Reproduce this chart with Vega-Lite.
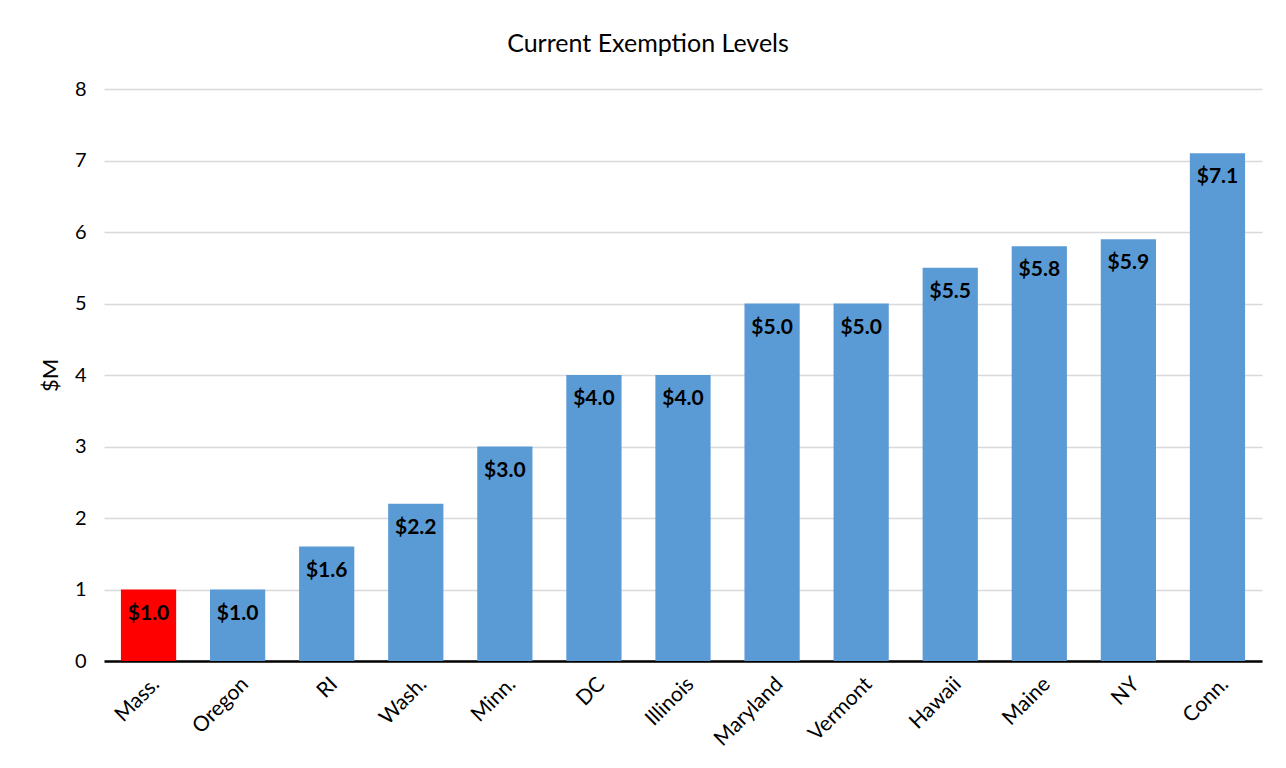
{
  "$schema": "https://vega.github.io/schema/vega-lite/v6.json",
  "width": 1158,
  "height": 572,
  "autosize": {"type": "none"},
  "padding": {"left": 104, "top": 89, "right": 24, "bottom": 107},
  "background": "white",
  "title": {"text": "Current Exemption Levels", "font": "Lato", "fontSize": 25, "fontWeight": "normal", "color": "#000000", "anchor": "middle", "offset": 22, "dx": -35},
  "config": {"view": {"stroke": null}, "font": "Lato"},
  "data": {"values": [
    {"state": "Mass.", "value": 1.0, "hl": "yes"},
    {"state": "Oregon", "value": 1.0, "hl": "no"},
    {"state": "RI", "value": 1.6, "hl": "no"},
    {"state": "Wash.", "value": 2.2, "hl": "no"},
    {"state": "Minn.", "value": 3.0, "hl": "no"},
    {"state": "DC", "value": 4.0, "hl": "no"},
    {"state": "Illinois", "value": 4.0, "hl": "no"},
    {"state": "Maryland", "value": 5.0, "hl": "no"},
    {"state": "Vermont", "value": 5.0, "hl": "no"},
    {"state": "Hawaii", "value": 5.5, "hl": "no"},
    {"state": "Maine", "value": 5.8, "hl": "no"},
    {"state": "NY", "value": 5.9, "hl": "no"},
    {"state": "Conn.", "value": 7.1, "hl": "no"}
  ]},
  "encoding": {
    "x": {"field": "state", "type": "nominal", "sort": null,
      "scale": {"paddingInner": 0.38, "paddingOuter": 0.19},
      "axis": {"title": null, "labelAngle": -45, "labelFontSize": 21, "labelColor": "#000000", "labelPadding": 12, "ticks": false, "domainColor": "#000000", "domainWidth": 2.5, "grid": false}},
    "y": {"field": "value", "type": "quantitative",
      "scale": {"domain": [0, 8]},
      "axis": {"title": "$M", "titleFontSize": 22, "titleFontWeight": "normal", "titleColor": "#000000", "titlePadding": 12, "values": [0,1,2,3,4,5,6,7,8], "labelOverlap": false, "labelFontSize": 20, "labelColor": "#000000", "labelPadding": 18, "ticks": false, "domain": false, "grid": true, "gridColor": "#d9d9d9", "gridWidth": 1.5}}
  },
  "layer": [
    {"mark": {"type": "bar"},
      "encoding": {"color": {"field": "hl", "type": "nominal", "scale": {"domain": ["yes", "no"], "range": ["#ff0000", "#5b9bd5"]}, "legend": null}}},
    {"mark": {"type": "text", "baseline": "middle", "dy": 24, "fontSize": 21, "fontWeight": "bold", "color": "#000000"},
      "encoding": {"text": {"field": "value", "type": "quantitative", "format": "$.1f"}}}
  ]
}
